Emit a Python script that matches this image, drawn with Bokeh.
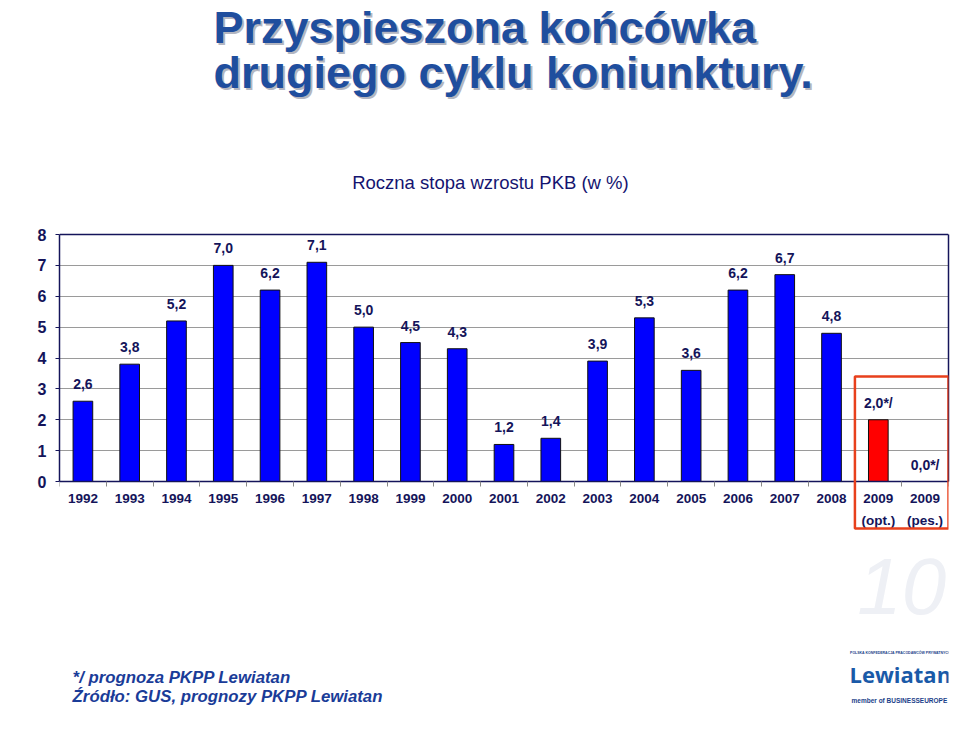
from bokeh.plotting import figure
from bokeh.models import (ColumnDataSource, Range1d, Label, PolyAnnotation,
                          FixedTicker, LinearAxis, Span)
from bokeh.core.properties import value
from bokeh.embed import file_html
from bokeh.resources import INLINE

# ---- data ----
years = ["1992", "1993", "1994", "1995", "1996", "1997", "1998", "1999", "2000",
         "2001", "2002", "2003", "2004", "2005", "2006", "2007", "2008",
         "2009", "2009"]
year_notes = [""] * 17 + ["(opt.)", "(pes.)"]
gdp = [2.6, 3.8, 5.2, 7.0, 6.2, 7.1, 5.0, 4.5, 4.3, 1.2, 1.4, 3.9, 5.3, 3.6,
       6.2, 6.7, 4.8, 2.0, 0.0]
value_labels = ["2,6", "3,8", "5,2", "7,0", "6,2", "7,1", "5,0", "4,5", "4,3",
                "1,2", "1,4", "3,9", "5,3", "3,6", "6,2", "6,7", "4,8",
                "2,0*/", "0,0*/"]
bar_colors = ["#0000FF"] * 17 + ["#FF0000", "#FF0000"]
y_ticks = [0, 1, 2, 3, 4, 5, 6, 7, 8]

title_lines = ["Przyspieszona końcówka", "drugiego cyklu koniunktury."]
subtitle = "Roczna stopa wzrostu PKB (w %)"
notes = ["*/ prognoza PKPP Lewiatan", "Źródło: GUS, prognozy PKPP Lewiatan"]

NAVY = "#14145a"
FONT = "Liberation Sans"

idx = list(range(len(years)))
src = ColumnDataSource(dict(x=idx, top=gdp, lab=value_labels, color=bar_colors))

# frame spans full height; y=0 sits at pixel 481, 30.875 px per unit
p = figure(width=960, height=729, x_range=Range1d(-0.5, len(years) - 0.5),
           y_range=Range1d(-8.032, 15.579),
           output_backend="svg", toolbar_location=None,
           x_axis_location=None, y_axis_location=None,
           min_border_left=59, min_border_right=12, min_border_top=0,
           min_border_bottom=0, background_fill_color="white",
           border_fill_color="white")
p.outline_line_color = None

p.vbar(x="x", top="top", width=0.42, source=src, fill_color="color",
       line_color="#111111", line_width=1)
p.text(x="x", y="top", text="lab", source=src, text_align="center",
       text_baseline="middle", y_offset=-17, text_font=value(FONT),
       text_font_style="bold", text_font_size="14px", text_color=NAVY)

# y axis (left) limited to 0..8
yax = LinearAxis(ticker=FixedTicker(ticks=y_ticks), bounds=(0, 8))
yax.major_label_text_font = FONT
yax.major_label_text_font_style = "bold"
yax.major_label_text_font_size = "16px"
yax.major_label_text_color = NAVY
yax.axis_line_color = NAVY
yax.axis_line_width = 1.5
yax.major_tick_line_color = NAVY
yax.major_tick_out = 4
yax.major_tick_in = 0
yax.minor_tick_line_color = None
yax.major_label_standoff = 9
p.add_layout(yax, "left")

# right frame edge
rax = LinearAxis(ticker=FixedTicker(ticks=[]), bounds=(0, 8))
rax.axis_line_color = NAVY
rax.axis_line_width = 1.5
rax.major_tick_line_color = None
rax.minor_tick_line_color = None
rax.major_label_text_font_size = "0px"
p.add_layout(rax, "right")

# grid
p.xgrid.grid_line_color = None
p.ygrid.ticker = FixedTicker(ticks=y_ticks)
p.ygrid.grid_line_color = "#9a9a9a"
p.ygrid.grid_line_width = 1
p.add_layout(Span(location=8, dimension="width", line_color=NAVY, line_width=1.5))

# x axes (two lines of tick labels)
xa = LinearAxis(fixed_location=0,
                ticker=FixedTicker(ticks=idx, minor_ticks=[i - 0.5 for i in range(len(years) + 1)]),
                bounds=(-0.5, len(years) - 0.5))
xa.major_label_overrides = {i: y for i, y in zip(idx, years)}
xa.major_label_text_font = FONT
xa.major_label_text_font_style = "bold"
xa.major_label_text_font_size = "13.5px"
xa.major_label_text_color = NAVY
xa.axis_line_color = NAVY
xa.axis_line_width = 1.5
xa.major_tick_line_color = None
xa.minor_tick_line_color = "#888888"
xa.minor_tick_out = 5
xa.minor_tick_in = 0
xa.major_label_standoff = 6
p.add_layout(xa, "below")

note_idx = [i for i, n in zip(idx, year_notes) if n]
xa2 = LinearAxis(fixed_location=-0.62, ticker=FixedTicker(ticks=note_idx))
xa2.major_label_overrides = {i: year_notes[i] for i in note_idx}
xa2.major_label_text_font = FONT
xa2.major_label_text_font_style = "bold"
xa2.major_label_text_font_size = "13.5px"
xa2.major_label_text_color = NAVY
xa2.axis_line_color = None
xa2.major_tick_line_color = None
xa2.minor_tick_line_color = None
xa2.major_label_standoff = 6
p.add_layout(xa2, "below")

# red highlight box around 2009 forecasts
p.add_layout(PolyAnnotation(xs=[16.5, 18.5, 18.5, 16.5], ys=[3.40, 3.40, -1.52, -1.52],
                            fill_color=None, fill_alpha=0, line_color="#E8401C",
                            line_alpha=1.0, line_width=2.5))

# titles (left aligned at x ~ 213 px)
title_y = [14.72, 13.24]
for t, yy in zip(title_lines, title_y):
    p.add_layout(Label(x=2.79, y=yy, text=t, x_offset=2, y_offset=-2,
                       text_align="left", text_baseline="middle",
                       text_font=FONT, text_font_style="bold", text_font_size="45px",
                       text_color="#b4b6c0"))
    p.add_layout(Label(x=2.79, y=yy, text=t, text_align="left",
                       text_baseline="middle", text_font=FONT,
                       text_font_style="bold", text_font_size="45px",
                       text_color="#1F4E9E"))

p.add_layout(Label(x=8.71, y=9.68, text=subtitle, text_align="center",
                   text_baseline="middle", text_font=FONT, text_font_size="18.5px",
                   text_color="#141470"))

for t, yy in zip(notes, [-6.35, -6.96]):
    p.add_layout(Label(x=-0.22, y=yy, text=t, text_align="left", text_baseline="middle",
                       text_font=FONT, text_font_style="bold italic",
                       text_font_size="16.8px", text_color="#1A3C98"))

# logo (text only)
p.add_layout(Label(x=17.5, y=-3.4, text="10", text_align="center", text_baseline="middle",
                   text_font=FONT, text_font_style="italic", text_font_size="80px",
                   text_color="#eef0f5"))
p.add_layout(Label(x=17.47, y=-5.55, text="POLSKA KONFEDERACJA PRACODAWCÓW PRYWATNYCH",
                   text_align="center", text_baseline="middle", text_font=FONT,
                   text_font_style="bold", text_font_size="3.5px", text_color="#1b3f8a"))
p.add_layout(Label(x=17.47, y=-6.25, text="Lewiatan", text_align="center",
                   text_baseline="middle", text_font="Open Sans",
                   text_font_style="bold", text_font_size="22px", text_color="#1a5aa8"))
p.add_layout(Label(x=17.47, y=-7.08, text="member of  BUSINESSEUROPE", text_align="center",
                   text_baseline="middle", text_font=FONT, text_font_style="bold",
                   text_font_size="6.5px", text_color="#1b3f8a"))

open("out.html", "w").write(file_html(p, INLINE))
